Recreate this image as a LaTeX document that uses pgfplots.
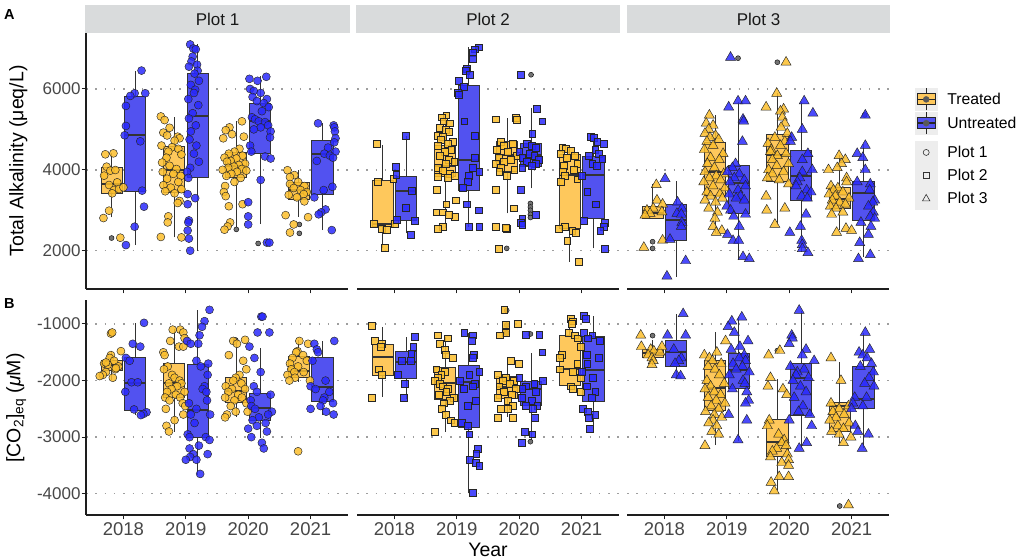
\documentclass[border=0pt]{standalone}
\usepackage{fontspec}
\setmainfont{Liberation Sans}
\usepackage{pgfplots}
\pgfplotsset{compat=1.18}
\definecolor{trtbox}{RGB}{254,200,92}
\definecolor{untbox}{RGB}{82,82,240}
\definecolor{trtpt}{RGB}{251,190,45}
\definecolor{untpt}{RGB}{42,42,252}
\definecolor{stripgray}{RGB}{217,219,220}
\definecolor{axisdark}{RGB}{30,30,30}
% box: style, position, lower whisker, q1, median, q3, upper whisker
\newcommand{\bx}[7]{%
 \pgfmathsetmacro{\xl}{#2-0.17}\pgfmathsetmacro{\xr}{#2+0.17}%
 \edef\bxtmp{%
  \noexpand\addplot[wsk] coordinates {(#2,#3)(#2,#4)};
  \noexpand\addplot[wsk] coordinates {(#2,#6)(#2,#7)};
  \noexpand\addplot[#1] coordinates {(\xl,#4)(\xr,#4)(\xr,#6)(\xl,#6)} -- cycle;
  \noexpand\addplot[med] coordinates {(\xl,#5)(\xr,#5)};
 }\bxtmp}
\pgfplotsset{
 facet/.style={anchor=south west, scale only axis, width=262bp, xmin=0.4, xmax=4.6, xtick={1,2,3,4},
  axis x line*=bottom, axis y line*=left, axis line style={-, line width=1.1bp, draw=axisdark},
  tick align=outside, major tick length=4.5bp, tick style={line width=1bp, draw=axisdark},
  ymajorgrids, grid style={dash pattern=on 1.5bp off 7.8bp, line width=1.4bp, draw=black!38},
  yticklabel style={font=\fontsize{17bp}{17bp}\selectfont, text=black!72, inner sep=0.8bp},
  xticklabel style={font=\fontsize{18.5bp}{18.5bp}\selectfont, text=black!72, inner sep=2.5bp},
  clip=true},
 panelA/.style={facet, height=256bp, ymin=1054, ymax=7383, ytick={2000,4000,6000}, yticklabels={2000,4000,6000}, xticklabels={}},
 panelB/.style={facet, height=215bp, ymin=-4376, ymax=-576, ytick={-4000,-3000,-2000,-1000}, yticklabels={-4000,-3000,-2000,-1000}, xticklabels={2018,2019,2020,2021}},
 noy/.style={yticklabels={}, y axis line style={draw=none}, ytick style={draw=none}},
 wsk/.style={draw=black!80, line width=0.8bp, mark=none},
 med/.style={draw=black!80, line width=2bp, mark=none},
 bT/.style={draw=black!80, fill=trtbox, line width=0.9bp, mark=none},
 bU/.style={draw=black!80, fill=untbox, line width=0.9bp, mark=none},
 pT/.style={only marks, mark options={fill=trtpt, fill opacity=0.85, draw=black!85, line width=0.45bp}},
 pU/.style={only marks, mark options={fill=untpt, fill opacity=0.85, draw=black!85, line width=0.45bp}},
 pO/.style={only marks, mark=*, mark size=2.5bp, mark options={fill=black!55, draw=none}},
 s1/.style={mark=*, mark size=4bp},
 s2/.style={mark=square*, mark size=3.4bp},
 s3/.style={mark=triangle*, mark size=5.8bp},
}
\begin{document}
\begin{tikzpicture}
\path[use as bounding box] (0bp,0bp) rectangle (1021bp,560bp);
% strips
\fill[stripgray] (85bp,527bp) rectangle (350bp,555bp);
\fill[stripgray] (356bp,527bp) rectangle (620bp,555bp);
\fill[stripgray] (627bp,527bp) rectangle (890bp,555bp);
\node[font=\fontsize{17bp}{17bp}\selectfont, text=black!90] at (217.5bp,541bp) {Plot 1};
\node[font=\fontsize{17bp}{17bp}\selectfont, text=black!90] at (488bp,541bp) {Plot 2};
\node[font=\fontsize{17bp}{17bp}\selectfont, text=black!90] at (758.5bp,541bp) {Plot 3};
% labels
\node[anchor=north west, inner sep=0pt, font=\bfseries\fontsize{14.5bp}{14.5bp}\selectfont] at (4bp,551bp) {A};
\node[anchor=north west, inner sep=0pt, font=\bfseries\fontsize{14.5bp}{14.5bp}\selectfont] at (4bp,262bp) {B};
\node[rotate=90, anchor=south, inner sep=0pt, font=\fontsize{19.5bp}{19.5bp}\selectfont] at (27.5bp,399bp) {Total Alkalinity (μeq/L)};
\node[rotate=90, anchor=south, inner sep=0pt, font=\fontsize{19.5bp}{19.5bp}\selectfont] at (26.5bp,152bp) {[CO\textsubscript{2}]\textsubscript{eq} ({\itshape μ}M)};
\node[anchor=base, inner sep=0pt, font=\fontsize{19.5bp}{19.5bp}\selectfont] at (488bp,4bp) {Year};

% ===== Panel A, Plot 1 =====
\begin{axis}[panelA, at={(86bp,271bp)}]
\bx{bT}{0.81}{2825}{3419}{3641}{4054}{4410}
\bx{bU}{1.19}{2140}{3476}{4862}{5810}{6445}
\bx{bT}{1.81}{2330}{3443}{3996}{4573}{5316}
\bx{bU}{2.19}{2000}{3806}{5340}{6371}{7100}
\bx{bT}{2.81}{2594}{3815}{4095}{4433}{5217}
\bx{bU}{3.19}{2660}{4408}{5217}{5629}{6322}
\bx{bT}{3.81}{2841}{3278}{3501}{3691}{3996}
\bx{bU}{4.19}{2512}{3402}{4384}{4738}{5151}
\addplot[pO] coordinates {(0.81,2314)(2.81,2528)(3.16,2180)(3.82,2650)(3.82,2430)};
\addplot[pT,s1] coordinates {
(0.71,4384)(0.84,4408)(0.73,4078)(0.79,3980)(0.87,3996)(0.69,3856)(0.90,3691)(0.77,3625)(0.85,3501)(0.93,3526)(0.82,3419)(0.77,2990)(0.68,2808)(0.95,2322)(1.00,3567)
(1.60,5320)(1.66,5230)(1.74,5040)(1.64,4920)(1.70,4850)(1.87,4820)(1.90,4780)(1.82,4720)(1.61,4600)(1.78,4560)(1.88,4520)(1.72,4450)(1.93,4380)(1.69,4300)(1.62,4180)(1.74,4100)(1.85,4020)(1.63,3950)(1.80,3900)(1.92,3850)(1.70,3780)(1.88,3700)(1.64,3620)(1.76,3560)(1.93,3520)(1.67,3470)(1.82,3420)(1.90,3230)(1.87,3180)(1.72,2850)(1.71,2700)(1.60,2340)(1.93,2330)
(2.90,5200)(2.70,5050)(2.64,4980)(2.74,4880)(2.93,4820)(2.60,4780)(2.86,4520)(2.78,4450)(2.69,4400)(2.91,4350)(2.62,4300)(2.81,4280)(2.72,4220)(2.66,4200)(2.95,4150)(2.85,4120)(2.77,4080)(2.68,4050)(2.90,4020)(2.59,4000)(2.97,3980)(2.82,3950)(2.73,3900)(2.65,3850)(2.88,3800)(2.78,3700)(2.63,3600)(2.61,3450)(2.64,3350)(2.91,3150)(2.69,3100)(2.71,2700)(2.67,2600)(2.62,2520)
(3.63,3990)(3.74,3870)(3.67,3820)(3.80,3700)(3.67,3650)(3.90,3600)(3.73,3550)(3.84,3500)(3.94,3450)(3.89,3400)(3.65,3380)(3.78,3320)(3.90,3220)(3.60,2880)(3.96,2830)(3.73,2650)(3.67,2450)
};
\addplot[pU,s1] coordinates {
(1.29,6454)(1.18,5893)(1.35,5893)(1.11,5827)(1.04,5580)(1.04,5085)(1.02,4854)(1.27,4705)(1.30,3485)(1.33,3089)(1.18,2594)(1.04,2140)
(2.07,7100)(2.12,7000)(2.16,6980)(2.11,6800)(2.09,6680)(2.18,6600)(2.05,6550)(2.19,6450)(2.14,6380)(2.21,6200)(2.08,6100)(2.15,5980)(2.13,5900)(2.04,5750)(2.20,5600)(2.11,5400)(2.05,5270)(2.16,5100)(2.08,4950)(2.06,4750)(2.17,4600)(2.13,4400)(2.21,4200)(2.07,4050)(2.02,3950)(2.04,3800)(2.03,3400)(2.15,3300)(2.03,3150)(2.05,2750)(2.04,2700)(2.03,2500)(2.05,2300)(2.07,2000)
(3.29,6300)(3.02,6250)(3.15,6200)(3.03,6000)(3.09,5950)(3.20,5900)(3.07,5800)(3.30,5750)(3.14,5700)(3.25,5650)(3.33,5550)(3.22,5450)(3.06,5300)(3.11,5250)(3.17,5200)(3.27,5180)(3.32,5100)(3.20,5050)(3.09,5000)(3.36,4950)(3.35,4800)(3.03,4600)(3.05,4450)(3.27,4330)(3.36,4280)(3.20,3750)(3.00,3200)(3.00,2850)(3.00,2650)(3.30,2200)(3.34,2200)
(4.12,5150)(4.37,5100)(4.38,5050)(4.39,4950)(4.40,4780)(4.38,4680)(4.28,4550)(4.40,4450)(4.22,4400)(4.31,4350)(4.36,4300)(4.10,4220)(4.35,3580)(4.21,3500)(4.06,3320)(4.24,3020)(4.17,2950)(4.13,2900)(4.34,2510)
};
\end{axis}

% ===== Panel A, Plot 2 =====
\begin{axis}[panelA, noy, at={(357bp,271bp)}]
\bx{bT}{0.81}{2058}{2611}{2660}{3740}{4615}
\bx{bU}{1.19}{2429}{2759}{3476}{3848}{4837}
\bx{bT}{1.81}{2553}{3831}{4103}{4598}{5357}
\bx{bU}{2.19}{2594}{3501}{4243}{6074}{7031}
\bx{bT}{2.81}{2924}{3955}{4367}{4697}{5274}
\bx{bU}{3.19}{3542}{4078}{4367}{4656}{5522}
\bx{bT}{3.81}{1728}{2553}{3872}{4392}{4573}
\bx{bU}{4.19}{2058}{2800}{3872}{4326}{4821}
\addplot[pO] coordinates {(2.80,2058)(3.19,6350)(3.18,3170)(3.18,3080)(3.18,3000)(3.18,2900)(3.18,2820)};
\addplot[pT,s2] coordinates {
(0.72,4640)(0.73,3707)(0.98,3773)(0.67,2660)(0.80,2553)(0.88,2512)(1.00,2660)(0.85,2083)
(1.83,5350)(1.76,5300)(1.79,5200)(1.89,5150)(1.72,5050)(1.82,5000)(1.87,4950)(1.69,4850)(1.78,4820)(1.74,4750)(1.94,4700)(1.85,4650)(1.70,4600)(1.91,4500)(1.80,4450)(1.73,4350)(1.87,4250)(1.96,4200)(1.82,4150)(1.69,4050)(1.77,3980)(1.89,3900)(1.97,3850)(1.69,3830)(1.86,3800)(1.68,3500)(1.98,3250)(1.83,3150)(1.67,2950)(1.77,2950)(1.97,2850)(1.87,2900)(1.77,2600)(1.70,2550)
(2.63,5250)(2.94,5280)(2.96,5230)(2.89,4650)(2.70,4700)(2.75,4600)(2.64,4500)(2.81,4450)(2.96,4350)(2.67,4300)(2.86,4250)(2.75,4200)(2.63,4150)(2.71,4050)(2.92,4000)(2.68,3950)(2.80,3850)(2.62,3500)(2.91,3050)(2.63,2600)(2.80,2550)(2.78,2560)(2.67,2050)
(3.69,4550)(3.74,4520)(3.82,4480)(3.66,4400)(3.89,4350)(3.76,4300)(3.93,4150)(3.72,4100)(3.88,4000)(3.70,3950)(3.73,3850)(3.93,3770)(3.66,3700)(3.73,2600)(3.63,2550)(3.85,2500)(3.91,2450)(3.77,2250)(3.95,1720)
};
\addplot[pU,s2] coordinates {
(1.18,4837)(1.02,4078)(1.03,3872)(1.28,3476)(1.18,3072)(1.04,2775)(1.32,2734)(1.26,2388)
(2.35,7030)(2.29,6980)(2.25,6900)(2.26,6750)(2.16,6500)(2.14,6450)(2.21,6350)(2.03,6200)(2.11,6050)(2.02,5900)(2.03,5850)(2.12,5200)(2.29,4850)(2.29,4300)(2.26,4050)(2.36,3950)(2.19,3850)(2.17,3700)(2.09,3550)(2.16,3150)(2.35,3000)(2.19,2600)(2.36,2600)
(3.02,6350)(3.28,5520)(3.37,5200)(3.21,4900)(3.12,4650)(3.20,4600)(3.26,4550)(3.00,4450)(3.16,4400)(3.24,4350)(3.05,4300)(3.31,4250)(3.12,4200)(3.27,4150)(3.20,4100)(3.05,4050)(3.02,3500)(3.27,2900)(3.05,2800)(3.03,2700)(3.05,2650)
(4.15,4820)(4.20,4800)(4.25,4700)(4.35,4650)(4.22,4500)(4.27,4400)(4.12,4350)(4.33,4280)(4.17,4150)(4.24,4100)(4.00,3850)(4.09,3450)(4.23,3150)(4.04,2750)(4.37,2700)(4.35,2600)(4.30,2500)(4.37,2050)
};
\end{axis}

% ===== Panel A, Plot 3 =====
\begin{axis}[panelA, noy, at={(627bp,271bp)}]
\bx{bT}{0.81}{2780}{2800}{2924}{3105}{3650}
\bx{bU}{1.19}{1357}{2248}{2759}{3154}{3724}
\bx{bT}{1.81}{2429}{3377}{3955}{4672}{5357}
\bx{bU}{2.19}{1769}{2924}{3666}{4120}{5687}
\bx{bT}{2.81}{2635}{3707}{4367}{4878}{5893}
\bx{bU}{3.19}{1975}{3254}{3848}{4491}{5687}
\bx{bT}{3.81}{2512}{3047}{3270}{3559}{4367}
\bx{bU}{4.19}{1852}{2759}{3419}{3724}{4650}
\addplot[pO] coordinates {(0.81,2223)(0.81,2058)(2.18,6760)(2.81,6660)(4.21,5357)};
\addplot[pT,s3] coordinates {
(0.87,3630)(0.88,3250)(0.97,3150)(0.82,3050)(0.72,3000)(0.96,2960)(0.77,2920)(0.69,2880)(0.67,2080)(0.97,2260)
(1.72,5350)(1.67,5150)(1.78,5100)(1.71,5000)(1.65,4900)(1.82,4850)(1.73,4800)(1.87,4750)(1.68,4700)(1.78,4600)(1.64,4500)(1.94,4400)(1.74,4300)(1.88,4250)(1.69,4150)(1.80,4050)(1.65,3950)(1.95,3900)(1.83,3850)(1.72,3800)(1.90,3750)(1.63,3700)(1.78,3600)(1.97,3550)(1.68,3450)(1.89,3400)(1.74,3350)(1.93,3300)(1.65,3250)(1.82,3200)(1.71,3050)(1.85,2950)(1.81,2800)(1.78,2600)(1.92,2500)(1.83,2450)
(2.80,5890)(2.63,5550)(2.91,5500)(2.86,5450)(2.89,5300)(2.93,5150)(2.87,5050)(2.97,4900)(2.77,4800)(2.93,4700)(2.66,4650)(2.86,4600)(2.71,4500)(2.70,4450)(2.95,4400)(2.81,4350)(2.73,4250)(2.99,4150)(2.80,4100)(2.67,4000)(2.91,3950)(2.73,3900)(2.65,3800)(2.84,3750)(2.99,3650)(2.63,3350)(2.93,3050)(2.64,3000)(2.77,2650)(2.95,6660)
(3.80,4350)(3.90,4250)(3.84,4150)(3.77,4050)(3.63,4000)(3.92,3800)(3.92,3700)(3.67,3600)(3.78,3550)(3.71,3500)(3.86,3450)(3.64,3400)(3.74,3350)(3.96,3300)(3.69,3250)(3.81,3200)(3.90,3150)(3.66,3100)(3.75,3050)(3.86,2950)(3.68,2900)(3.91,2550)(4.00,2500)(3.76,2450)
};
\addplot[pU,s3] coordinates {
(1.01,3780)(1.21,3200)(1.28,3050)(1.20,2920)(1.27,2900)(1.28,2700)(1.27,2600)(1.09,2280)(1.34,1750)(1.04,1370)
(2.18,5700)(2.30,5700)(2.03,5550)(2.26,5250)(2.27,5200)(2.25,4700)(2.14,4150)(2.09,4050)(2.01,3950)(2.20,3900)(2.12,3800)(2.28,3750)(2.05,3700)(2.30,3600)(2.18,3500)(2.04,3400)(2.22,3350)(2.15,3300)(2.28,3250)(2.00,3100)(2.06,3000)(2.30,2900)(2.11,2850)(2.20,2600)(2.01,2400)(2.10,2250)(2.19,2250)(2.26,1850)(2.36,1800)(2.06,6780)
(3.24,5700)(3.38,5400)(3.21,5000)(3.04,4800)(3.02,4700)(3.30,4400)(3.21,4250)(3.37,4000)(3.21,3950)(3.17,3800)(3.13,3700)(3.11,3600)(3.28,3500)(3.35,3450)(3.20,3350)(3.29,3300)(3.27,2900)(3.18,2600)(3.01,2450)(3.20,2250)(3.21,2150)(3.21,2050)(3.30,1950)
(4.22,5350)(4.22,4600)(4.09,4400)(4.18,4300)(4.22,4000)(4.09,3700)(4.30,3650)(4.29,3500)(4.37,3250)(4.34,3200)(4.27,3100)(4.35,2950)(4.30,2850)(4.37,2800)(4.15,2700)(4.31,2600)(4.27,2400)(4.13,2200)(4.30,1900)(4.11,1800)
};
\end{axis}

% ===== Panel B, Plot 1 =====
\begin{axis}[panelB, at={(86bp,45bp)}]
\bx{bT}{0.81}{-1990}{-1825}{-1725}{-1636}{-1477}
\bx{bU}{1.19}{-2610}{-2532}{-2037}{-1595}{-976}
\bx{bT}{1.81}{-2903}{-2302}{-2037}{-1695}{-1094}
\bx{bU}{2.19}{-3670}{-3004}{-2520}{-1707}{-752}
\bx{bT}{2.81}{-2638}{-2385}{-2184}{-1949}{-1253}
\bx{bU}{3.19}{-3021}{-2697}{-2491}{-2226}{-1430}
\bx{bT}{3.81}{-2020}{-1949}{-1825}{-1577}{-1283}
\bx{bU}{4.19}{-2610}{-2361}{-2108}{-1589}{-1295}
\addplot[pO] coordinates {(0.81,-1160)(2.80,-1283)};
\addplot[pT,s1] coordinates {
(0.80,-1170)(0.82,-1150)(0.96,-1480)(0.80,-1550)(0.78,-1600)(0.85,-1650)(0.69,-1700)(0.92,-1750)(0.87,-1800)(0.72,-1850)(0.67,-1900)(0.83,-1950)(0.62,-1920)(0.88,-1780)(0.75,-1720)(0.72,-1680)
(1.79,-1100)(1.91,-1100)(1.96,-1150)(1.75,-1300)(1.98,-1250)(1.89,-1400)(1.96,-1400)(1.64,-1500)(1.66,-1550)(1.71,-1750)(1.65,-1800)(1.78,-1900)(1.82,-1950)(1.90,-2000)(1.73,-2050)(1.93,-2050)(1.86,-2100)(1.77,-2150)(1.70,-2200)(1.98,-2200)(1.84,-2250)(1.67,-2300)(1.91,-2300)(1.74,-2350)(1.95,-2400)(1.99,-2450)(1.68,-2500)(1.96,-2600)(1.82,-2700)(1.69,-2800)(1.73,-2900)
(2.76,-1300)(2.95,-1280)(2.82,-1350)(2.69,-1550)(2.92,-1650)(2.97,-1800)(2.86,-1900)(2.80,-1950)(2.76,-2000)(2.89,-2050)(2.64,-2100)(2.74,-2150)(2.95,-2150)(2.68,-2200)(2.84,-2250)(2.63,-2300)(2.90,-2300)(2.78,-2350)(2.97,-2400)(2.72,-2450)(2.80,-2550)(2.99,-2550)(2.66,-2600)(2.63,-2650)
(3.82,-1300)(3.96,-1350)(3.79,-1480)(3.77,-1500)(3.88,-1550)(3.71,-1600)(3.94,-1650)(3.67,-1700)(3.80,-1750)(3.69,-1800)(3.74,-1850)(3.89,-1850)(3.63,-1900)(3.75,-1950)(3.99,-2000)(3.66,-2000)(3.80,-3250)
};
\addplot[pU,s1] coordinates {
(1.33,-980)(1.15,-1350)(1.27,-1400)(1.04,-1600)(1.10,-1650)(1.13,-2030)(1.23,-2030)(1.03,-2200)(1.17,-2510)(1.37,-2560)(1.32,-2590)(1.28,-2610)
(2.38,-750)(2.30,-950)(2.26,-1050)(2.22,-1200)(2.02,-1300)(2.08,-1350)(2.20,-1350)(2.17,-1650)(2.36,-1700)(2.24,-1750)(2.35,-1900)(2.30,-2100)(2.27,-2150)(2.33,-2200)(2.34,-2350)(2.05,-2400)(2.17,-2500)(2.08,-2600)(2.39,-2600)(2.14,-2750)(2.03,-2950)(2.06,-3000)(2.32,-3000)(2.38,-3050)(2.21,-3150)(2.06,-3200)(2.12,-3300)(2.35,-3300)(2.07,-3350)(2.17,-3400)(2.00,-3400)(2.23,-3650)
(3.21,-870)(3.23,-870)(3.15,-1150)(3.34,-1150)(3.02,-1400)(3.10,-1600)(3.20,-1850)(3.09,-2100)(3.14,-2200)(3.36,-2250)(3.04,-2350)(3.05,-2450)(3.11,-2500)(3.38,-2550)(3.32,-2600)(3.17,-2650)(3.07,-2700)(3.28,-2750)(3.14,-2800)(3.00,-2850)(3.30,-2900)(3.05,-3000)(3.22,-3100)(3.25,-3200)
(4.38,-1300)(4.06,-1350)(4.10,-1450)(4.12,-1500)(4.03,-1650)(4.24,-2000)(4.00,-2100)(4.08,-2150)(4.30,-2200)(4.22,-2300)(4.20,-2350)(4.36,-2400)(4.16,-2450)(4.00,-2500)(4.25,-2550)(4.37,-2600)
};
\end{axis}

% ===== Panel B, Plot 2 =====
\begin{axis}[panelB, noy, at={(357bp,45bp)}]
\bx{bT}{0.81}{-2285}{-1913}{-1589}{-1359}{-1047}
\bx{bU}{1.19}{-2330}{-1959}{-1666}{-1489}{-1236}
\bx{bT}{1.81}{-2903}{-2326}{-2049}{-1766}{-1224}
\bx{bU}{2.19}{-3994}{-2833}{-2031}{-1725}{-1165}
\bx{bT}{2.81}{-2638}{-2314}{-2120}{-1931}{-1636}
\bx{bU}{3.19}{-3051}{-2432}{-2149}{-2020}{-1519}
\bx{bT}{3.81}{-2167}{-2078}{-1801}{-1194}{-882}
\bx{bU}{4.19}{-2874}{-2373}{-1813}{-1224}{-859}
\addplot[pO] coordinates {(2.80,-1020)(2.78,-1140)(2.80,-1160)(2.80,-760)(3.18,-1177)(3.18,-3080)};
\addplot[pT,s2] coordinates {
(0.64,-1030)(0.68,-1300)(0.80,-1350)(0.78,-1400)(0.75,-1800)(0.80,-1900)(0.63,-2300)
(1.70,-1200)(1.85,-1250)(1.73,-1350)(1.80,-1450)(1.82,-1550)(1.93,-1600)(1.67,-1800)(1.81,-1850)(1.75,-1900)(1.69,-1950)(1.64,-2000)(1.72,-2050)(1.77,-2100)(1.86,-2150)(1.83,-2200)(1.71,-2250)(1.95,-2300)(1.88,-2350)(1.79,-2400)(1.76,-2500)(1.82,-2600)(1.90,-2700)(1.96,-2750)(1.64,-2900)
(2.76,-750)(2.98,-1000)(2.79,-1020)(2.79,-1150)(2.69,-1200)(2.87,-1650)(2.99,-1700)(2.65,-1900)(2.79,-1950)(2.91,-2000)(2.73,-2000)(2.85,-2050)(2.68,-2100)(2.95,-2150)(2.75,-2200)(2.88,-2250)(2.66,-2300)(2.81,-2350)(2.90,-2450)(2.70,-2500)(2.81,-2500)(2.65,-2650)(2.89,-2650)
(3.82,-900)(3.86,-950)(3.84,-1000)(3.80,-1150)(3.89,-1200)(3.94,-1250)(3.98,-1400)(3.68,-1550)(3.65,-1600)(3.93,-1700)(3.65,-1800)(3.86,-1850)(3.98,-1950)(3.83,-2100)(3.86,-2150)(3.99,-2200)
};
\addplot[pU,s2] coordinates {
(1.33,-1230)(1.30,-1400)(1.27,-1520)(1.12,-1650)(1.26,-1650)(1.05,-1900)(1.17,-2060)(1.15,-2300)
(2.12,-1150)(2.25,-1200)(2.24,-1300)(2.27,-1550)(2.26,-1600)(2.36,-1850)(2.20,-1900)(2.05,-2000)(2.29,-2050)(2.26,-2100)(2.11,-2150)(2.30,-2350)(2.17,-2450)(2.08,-2750)(2.18,-2800)(2.20,-2950)(2.33,-3200)(2.31,-3300)(2.21,-3400)(2.30,-3450)(2.36,-3500)(2.25,-3980)
(3.11,-1190)(3.32,-1190)(3.37,-1500)(3.00,-1950)(3.38,-2000)(3.24,-2050)(3.11,-2100)(3.05,-2150)(3.26,-2200)(3.04,-2300)(3.20,-2350)(3.10,-2450)(3.29,-2450)(3.22,-2500)(3.25,-2650)(3.09,-2900)(3.21,-2950)(3.04,-3100)
(4.03,-850)(4.07,-900)(4.04,-1150)(4.17,-1200)(4.10,-1250)(4.29,-1300)(4.08,-1550)(4.27,-1600)(4.09,-1700)(4.00,-1850)(4.18,-1950)(4.08,-2100)(4.22,-2200)(4.16,-2300)(4.02,-2500)(4.10,-2550)(4.21,-2600)(4.12,-2650)(4.13,-2850)
};
\end{axis}

% ===== Panel B, Plot 3 =====
\begin{axis}[panelB, noy, at={(627bp,45bp)}]
\bx{bT}{0.81}{-1725}{-1589}{-1519}{-1448}{-1283}
\bx{bU}{1.19}{-1931}{-1754}{-1489}{-1283}{-829}
\bx{bT}{1.81}{-3139}{-2532}{-2137}{-1648}{-1147}
\bx{bU}{2.19}{-3063}{-2137}{-1813}{-1519}{-882}
\bx{bT}{2.81}{-3935}{-3345}{-3080}{-2685}{-1972}
\bx{bU}{3.19}{-3198}{-2609}{-1961}{-1695}{-764}
\bx{bT}{3.81}{-3110}{-2903}{-2450}{-2390}{-1666}
\bx{bU}{4.19}{-3198}{-2491}{-2332}{-1754}{-1165}
\addplot[pO] coordinates {(0.81,-1206)(2.81,-1470)(3.81,-4217)};
\addplot[pT,s3] coordinates {
(0.62,-1200)(0.63,-1400)(0.78,-1450)(0.83,-1480)(0.93,-1500)(0.74,-1550)(0.80,-1600)(0.82,-1650)(0.80,-1720)(0.96,-1400)
(1.98,-1300)(1.84,-1500)(1.64,-1550)(1.72,-1600)(1.77,-1650)(1.91,-1700)(1.70,-1750)(1.81,-1800)(1.88,-1900)(1.68,-2000)(1.96,-2050)(1.74,-2100)(1.65,-2150)(1.80,-2200)(1.90,-2250)(1.70,-2300)(1.83,-2350)(1.97,-2400)(1.75,-2450)(1.87,-2500)(1.66,-2550)(1.80,-2600)(1.92,-2650)(1.78,-2700)(1.71,-2750)(1.84,-2800)(1.76,-2900)(1.87,-2950)(1.65,-3150)
(2.85,-1470)(2.67,-1550)(2.70,-1950)(2.66,-2100)(2.90,-2150)(2.96,-2250)(2.68,-2700)(2.65,-2800)(2.83,-2950)(2.92,-3050)(2.88,-3100)(2.95,-3150)(2.80,-3200)(2.73,-3250)(2.97,-3300)(2.70,-3350)(2.99,-3400)(2.88,-3450)(2.99,-3500)(2.84,-3700)(2.99,-3700)(2.71,-3800)(2.76,-3950)
(3.67,-1600)(3.83,-2000)(3.67,-2400)(3.95,-2450)(3.80,-2500)(3.70,-2550)(3.88,-2600)(3.75,-2650)(3.65,-2700)(3.96,-2750)(3.78,-2800)(3.87,-2850)(3.68,-2900)(3.80,-2950)(3.99,-3000)(3.87,-3100)(3.95,-4200)
};
\addplot[pU,s3] coordinates {
(1.30,-820)(1.05,-1200)(1.34,-1200)(1.15,-1450)(1.27,-1600)(1.23,-1650)(1.17,-1700)(1.19,-1900)(1.26,-1920)
(2.24,-880)(2.08,-950)(2.02,-1050)(2.12,-1150)(2.34,-1300)(2.21,-1400)(2.07,-1450)(2.28,-1550)(2.20,-1600)(2.30,-1650)(2.10,-1700)(2.25,-1750)(2.15,-1800)(2.36,-1850)(2.04,-1900)(2.26,-2000)(2.29,-2050)(2.09,-2150)(2.32,-2200)(2.35,-2350)(2.30,-2400)(2.03,-2600)(2.32,-2700)(2.18,-3050)
(3.16,-760)(3.04,-1200)(3.05,-1250)(3.00,-1350)(3.27,-1450)(3.21,-1550)(3.40,-1650)(3.02,-1750)(3.24,-1800)(3.13,-1850)(3.11,-1900)(3.31,-1950)(3.06,-2000)(3.18,-2100)(3.27,-2200)(3.08,-2300)(3.22,-2450)(3.15,-2550)(3.33,-2600)(3.00,-2700)(3.36,-2800)(3.28,-3100)(3.16,-3200)
(4.22,-1150)(4.29,-1450)(4.12,-1500)(4.18,-1550)(4.25,-1600)(4.32,-1700)(4.14,-1750)(4.35,-1850)(4.28,-1950)(4.21,-2050)(4.36,-2100)(4.05,-2300)(4.24,-2300)(4.02,-2400)(4.18,-2450)(4.00,-2500)(4.06,-2800)(4.10,-2900)(4.27,-2950)(4.17,-3200)
};
\end{axis}

% ===== Legend: treatment =====
\begin{axis}[at={(915bp,472bp)}, anchor=north west, hide axis, scale only axis, width=10bp, height=10bp, xmin=0, xmax=1, ymin=0, ymax=1,
 legend style={at={(0,1)}, anchor=north west, draw=none, fill=none, inner sep=0pt, outer sep=0pt, row sep=1bp,
  font=\fontsize{15.7bp}{15.7bp}\selectfont, cells={anchor=west}, nodes={inner sep=0pt},
  /tikz/every odd column/.append style={column sep=10bp}}]
\addlegendimage{legend image code/.code={
  \fill[black!7] (0bp,-11bp) rectangle (22bp,11bp);
  \draw[black!85, line width=0.8bp] (11bp,-11bp) -- (11bp,11bp);
  \filldraw[fill=trtbox, draw=black!85, line width=0.8bp] (2bp,-5.5bp) rectangle (20bp,5.5bp);
  \draw[black!85, line width=1.5bp] (2bp,0bp) -- (20bp,0bp);
  \fill[black!65] (11bp,0bp) circle (3bp);}}
\addlegendentry{Treated}
\addlegendimage{legend image code/.code={
  \fill[black!7] (0bp,-11bp) rectangle (22bp,11bp);
  \draw[black!85, line width=0.8bp] (11bp,-11bp) -- (11bp,11bp);
  \filldraw[fill=untbox, draw=black!85, line width=0.8bp] (2bp,-5.5bp) rectangle (20bp,5.5bp);
  \draw[black!85, line width=1.5bp] (2bp,0bp) -- (20bp,0bp);
  \fill[black!65] (11bp,0bp) circle (3bp);}}
\addlegendentry{Untreated}
\end{axis}

% ===== Legend: plot shape =====
\begin{axis}[at={(915bp,419bp)}, anchor=north west, hide axis, scale only axis, width=10bp, height=10bp, xmin=0, xmax=1, ymin=0, ymax=1,
 legend style={at={(0,1)}, anchor=north west, draw=none, fill=none, inner sep=0pt, outer sep=0pt, row sep=0bp,
  font=\fontsize{15.7bp}{15.7bp}\selectfont, cells={anchor=west}, nodes={inner sep=0pt},
  /tikz/every odd column/.append style={column sep=10bp}}]
\addlegendimage{legend image code/.code={
  \fill[black!7] (0bp,-11.25bp) rectangle (22bp,11.25bp);
  \draw[black!80, line width=0.6bp] (11bp,0bp) circle (3bp);}}
\addlegendentry{Plot 1}
\addlegendimage{legend image code/.code={
  \fill[black!7] (0bp,-11.25bp) rectangle (22bp,11.25bp);
  \draw[black!80, line width=0.6bp] (8bp,-3bp) rectangle (14bp,3bp);}}
\addlegendentry{Plot 2}
\addlegendimage{legend image code/.code={
  \fill[black!7] (0bp,-11.25bp) rectangle (22bp,11.25bp);
  \draw[black!80, line width=0.6bp] (7.3bp,-2.6bp) -- (14.7bp,-2.6bp) -- (11bp,3.8bp) -- cycle;}}
\addlegendentry{Plot 3}
\end{axis}
\end{tikzpicture}
\end{document}
